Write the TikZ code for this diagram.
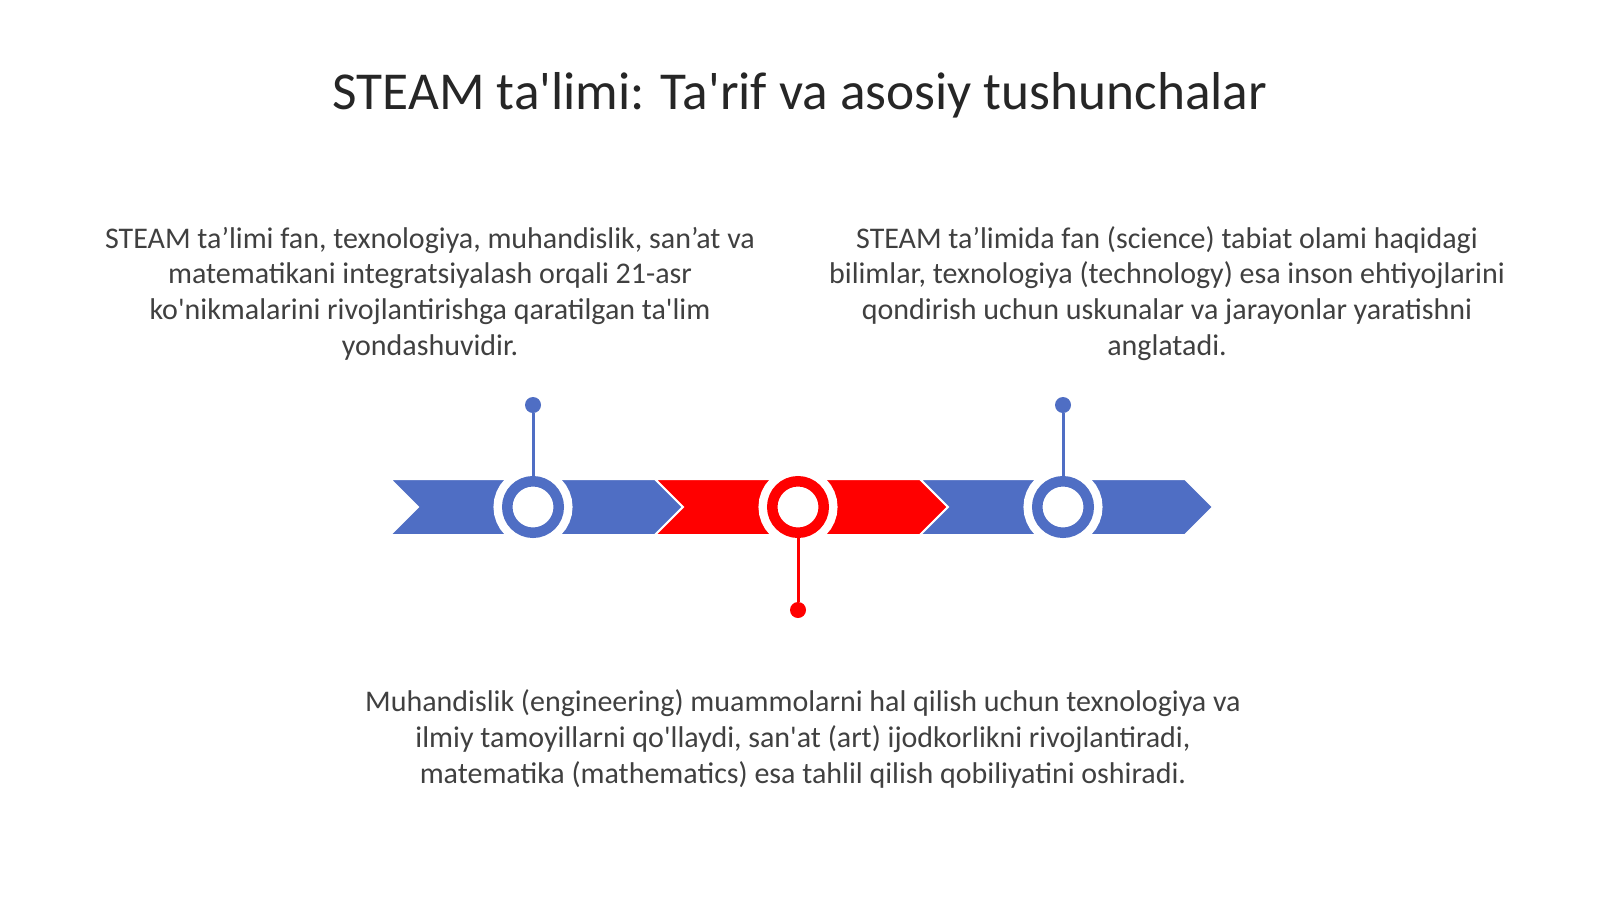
\documentclass[tikz,border=0pt]{standalone}
\usepackage{fontspec}
\setmainfont{Carlito}
\usetikzlibrary{positioning}
\definecolor{stblue}{HTML}{4F6EC4}
\definecolor{stred}{HTML}{FF0000}
\definecolor{bodygray}{HTML}{404040}
\definecolor{titlegray}{HTML}{262626}
\newcommand{\sq}{\textquotesingle}

\begin{document}
\begin{tikzpicture}[x=0.6pt,y=-0.6pt,
		chev/.style={fill=#1,draw=white,line width=1.2pt,line join=miter},
		ring/.style={circle,fill=white,draw=white,double=#1,double distance=6.3pt,line width=5.1pt,minimum size=30.9pt,inner sep=0pt,outer sep=3pt},
		dot/.style={circle,fill=#1,minimum size=9.6pt,inner sep=0pt},
		stem/.style={#1,line width=1.8pt},
		txt/.style={anchor=base,align=center,text=bodygray,font=\fontsize{18}{21.4}\selectfont}]
		\useasboundingbox[fill=white] (0,0) rectangle (1600,899);
		% title
		\node[anchor=base,text=titlegray,font=\fontsize{32}{38}\selectfont] (title) at (800,109) {STEAM ta\sq limi: Ta\sq rif va asosiy tushunchalar};
		% chevrons
		\foreach \i/\c in {0/stblue,1/stred,2/stblue} {
			\pgfmathsetmacro{\L}{390+265*\i}
			\draw[chev=\c] (\L,479) -- ++(265,0) -- ++(28,28) -- ++(-28,28) -- ++(-265,0) -- ++(28,-28) -- cycle;
		}
		% rings and pins
		\node[ring=stblue] (ring1) at (533,507) {};
		\node[ring=stred] (ring2) at (798,507) {};
		\node[ring=stblue] (ring3) at (1063,507) {};
		\node[dot=stblue] (dot1) at (533,405) {};
		\node[dot=stred] (dot2) at (798,610) {};
		\node[dot=stblue] (dot3) at (1063,405) {};
		\draw[stem=stblue] (ring1) -- (dot1);
		\draw[stem=stred] (ring2) -- (dot2);
		\draw[stem=stblue] (ring3) -- (dot3);
		% texts (base = last line)
		\node[txt] (left) at (430,355) {STEAM ta'limi fan, texnologiya, muhandislik, san'at va\\matematikani integratsiyalash orqali 21-asr\\ko\sq nikmalarini rivojlantirishga qaratilgan ta\sq lim\\yondashuvidir.};
		\node[txt] (right) at (1167,355) {STEAM ta'limida fan (science) tabiat olami haqidagi\\bilimlar, texnologiya (technology) esa inson ehtiyojlarini\\qondirish uchun uskunalar va jarayonlar yaratishni\\anglatadi.};
		\node[txt] (bottom) at (803,783) {Muhandislik (engineering) muammolarni hal qilish uchun texnologiya va\\ilmiy tamoyillarni qo\sq llaydi, san\sq at (art) ijodkorlikni rivojlantiradi,\\matematika (mathematics) esa tahlil qilish qobiliyatini oshiradi.};
	\end{tikzpicture}
\end{document}
